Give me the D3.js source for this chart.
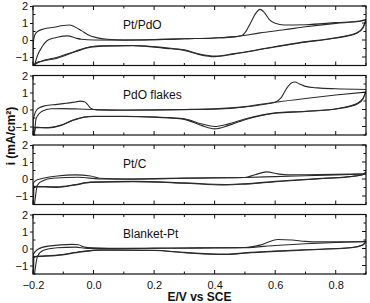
<!DOCTYPE html>
<html>
<head>
<meta charset="utf-8">
<script src="https://cdn.jsdelivr.net/npm/d3@7"></script>
<style>
  body { margin: 0; background: #fff; }
  text { font-family: "Liberation Sans", Arial, sans-serif; }
</style>
</head>
<body>
<svg id="cv" width="370" height="303"></svg>
<script>
// panel names, ticks
var panelNames = ["Pt/PdO", "PdO flakes", "Pt/C", "Blanket-Pt"];
var xTicks = [-0.2, 0.0, 0.2, 0.4, 0.6, 0.8];
var yTicks = [-1, 0, 1, 2];

// each curve = list of [E (V vs SCE), i (mA/cm2)], one sweep direction
var ptPdoUp1 = [[-0.2,-1.5],[-0.199,-0.2],[-0.195,0.25],[-0.185,0.5],[-0.165,0.65],[-0.13,0.75],[-0.1,0.85],[-0.08,0.88],[-0.065,0.8],[-0.04,0.55],[-0.02,0.33],[0.01,0.14],[0.045,0.04],[0.1,0.0],[0.2,0.02],[0.3,0.07],[0.4,0.12],[0.47,0.2],[0.49,0.26],[0.505,0.55],[0.52,1.05],[0.535,1.55],[0.55,1.8],[0.565,1.6],[0.58,1.22],[0.6,0.98],[0.63,0.88],[0.7,0.9],[0.8,1.02],[0.88,1.12],[0.9,1.2]];
var ptPdoUp2 = [[-0.195,-1.5],[-0.185,-0.9],[-0.17,-0.4],[-0.15,0.0],[-0.12,0.16],[-0.085,0.24],[-0.06,0.12],[-0.04,0.04],[0.0,0.0],[0.1,-0.01],[0.2,0.02],[0.3,0.07],[0.4,0.12],[0.47,0.2],[0.55,0.42],[0.63,0.6],[0.7,0.78],[0.8,0.98],[0.88,1.1],[0.9,1.18]];
var ptPdoDown1 = [[-0.2,-1.5],[-0.19,-1.35],[-0.17,-1.25],[-0.12,-1.07],[-0.06,-0.69],[-0.01,-0.42],[0.03,-0.36],[0.13,-0.33],[0.24,-0.49],[0.3,-0.62],[0.35,-0.86],[0.4,-0.98],[0.465,-0.82],[0.575,-0.49],[0.685,-0.16],[0.795,0.1],[0.87,0.39],[0.89,0.7],[0.9,1.2]];
var ptPdoDown2 = [[-0.198,-1.5],[-0.18,-1.3],[-0.12,-1.02],[-0.06,-0.66],[-0.01,-0.4],[0.03,-0.34],[0.13,-0.32],[0.24,-0.46],[0.3,-0.58],[0.35,-0.82],[0.4,-0.94],[0.465,-0.8],[0.575,-0.47],[0.685,-0.14],[0.795,0.12],[0.87,0.42],[0.89,0.75],[0.9,1.18]];

var pdoUp1 = [[-0.2,-1.5],[-0.199,-0.6],[-0.193,-0.2],[-0.185,0.04],[-0.16,0.22],[-0.12,0.3],[-0.09,0.37],[-0.06,0.44],[-0.045,0.49],[-0.03,0.46],[-0.02,0.3],[-0.01,0.08],[0.01,-0.02],[0.1,-0.04],[0.2,-0.03],[0.3,-0.01],[0.4,0.02],[0.5,0.15],[0.58,0.35],[0.6,0.43],[0.62,0.7],[0.64,1.3],[0.655,1.58],[0.665,1.62],[0.68,1.5],[0.7,1.36],[0.74,1.27],[0.8,1.22],[0.9,1.18]];
var pdoUp2 = [[-0.195,-1.5],[-0.19,-0.55],[-0.18,-0.25],[-0.17,-0.1],[-0.14,0.04],[-0.1,0.05],[-0.05,0.03],[0.0,0.0],[0.1,-0.03],[0.2,-0.02],[0.3,0.0],[0.4,0.04],[0.5,0.17],[0.6,0.43],[0.7,0.65],[0.8,0.85],[0.9,1.02]];
var pdoDown1 = [[-0.2,-1.5],[-0.198,-1.05],[-0.15,-1.08],[-0.11,-0.95],[-0.07,-0.65],[-0.03,-0.45],[0.0,-0.41],[0.1,-0.41],[0.2,-0.45],[0.25,-0.5],[0.3,-0.58],[0.358,-0.95],[0.4,-1.14],[0.444,-0.95],[0.5,-0.6],[0.6,-0.22],[0.7,-0.12],[0.807,0.04],[0.873,0.34],[0.89,0.62],[0.9,1.1]];
var pdoDown2 = [[-0.198,-1.5],[-0.19,-1.05],[-0.15,-1.06],[-0.11,-0.93],[-0.07,-0.64],[-0.03,-0.44],[0.0,-0.4],[0.1,-0.4],[0.2,-0.44],[0.25,-0.48],[0.3,-0.55],[0.358,-0.85],[0.4,-1.0],[0.444,-0.86],[0.5,-0.56],[0.6,-0.2],[0.7,-0.1],[0.807,0.06],[0.873,0.38],[0.89,0.66],[0.9,1.05]];

var ptcUp1 = [[-0.2,-1.5],[-0.199,-0.25],[-0.19,-0.08],[-0.167,0.04],[-0.12,0.18],[-0.06,0.24],[-0.01,0.18],[0.02,0.04],[0.1,0.0],[0.2,0.02],[0.3,0.05],[0.4,0.07],[0.5,0.09],[0.533,0.25],[0.572,0.42],[0.609,0.3],[0.642,0.24],[0.7,0.25],[0.8,0.27],[0.9,0.3]];
var ptcUp2 = [[-0.195,-1.5],[-0.185,-0.35],[-0.167,-0.1],[-0.135,0.04],[-0.05,0.1],[0.02,0.0],[0.1,-0.01],[0.3,0.04],[0.5,0.09],[0.6,0.14],[0.7,0.19],[0.8,0.24],[0.9,0.29]];
var ptcDown1 = [[-0.2,-1.5],[-0.199,-0.45],[-0.12,-0.49],[-0.06,-0.35],[-0.01,-0.2],[0.13,-0.16],[0.3,-0.25],[0.435,-0.35],[0.5,-0.3],[0.6,-0.16],[0.77,0.04],[0.85,0.14],[0.89,0.25],[0.9,0.43]];
var ptcDown2 = [[-0.198,-1.5],[-0.197,-0.43],[-0.12,-0.46],[-0.06,-0.33],[-0.01,-0.18],[0.13,-0.14],[0.3,-0.23],[0.435,-0.32],[0.5,-0.28],[0.6,-0.14],[0.77,0.05],[0.85,0.15],[0.89,0.27],[0.9,0.4]];

var blanketUp1 = [[-0.2,-1.5],[-0.199,-0.35],[-0.185,-0.06],[-0.15,0.14],[-0.07,0.24],[-0.05,0.22],[-0.03,0.08],[0.0,0.04],[0.1,0.01],[0.2,0.02],[0.3,0.03],[0.4,0.04],[0.5,0.06],[0.55,0.2],[0.609,0.53],[0.655,0.5],[0.7,0.42],[0.74,0.39],[0.8,0.39],[0.9,0.4]];
var blanketUp2 = [[-0.195,-1.5],[-0.185,-0.45],[-0.167,-0.12],[-0.12,0.04],[-0.06,0.08],[-0.02,0.0],[0.1,0.0],[0.3,0.02],[0.5,0.05],[0.6,0.18],[0.7,0.28],[0.8,0.35],[0.9,0.42]];
var blanketDown1 = [[-0.2,-1.5],[-0.199,-0.49],[-0.12,-0.41],[-0.04,-0.2],[0.02,-0.1],[0.2,-0.12],[0.3,-0.25],[0.435,-0.35],[0.52,-0.25],[0.687,-0.1],[0.852,0.04],[0.89,0.2],[0.9,0.45]];
var blanketDown2 = [[-0.198,-1.5],[-0.197,-0.47],[-0.12,-0.39],[-0.04,-0.18],[0.02,-0.08],[0.2,-0.1],[0.3,-0.23],[0.435,-0.33],[0.52,-0.23],[0.687,-0.08],[0.852,0.06],[0.89,0.22],[0.9,0.42]];

var panelCurves = [
  [ptPdoUp1, ptPdoUp2, ptPdoDown1, ptPdoDown2],
  [pdoUp1, pdoUp2, pdoDown1, pdoDown2],
  [ptcUp1, ptcUp2, ptcDown1, ptcDown2],
  [blanketUp1, blanketUp2, blanketDown1, blanketDown2]
];

var svg = d3.select("#cv"),
    margin = {top: 6, right: 4, left: 33},
    width = +svg.attr("width") - margin.left - margin.right,
    step = 69.5,
    ph = 59.5;

var x = d3.scaleLinear().domain([-0.2, 0.9]).range([0, width]);
var y = d3.scaleLinear().domain([-1.5, 2]).range([ph, 0]);

var line = d3.line()
    .x(function(d) { return x(d[0]); })
    .y(function(d) { return y(d[1]); })
    .curve(d3.curveMonotoneX);

var minorX = d3.range(-2, 10).map(function(k) { return k / 10; });
var minorY = [-1.5, -0.5, 0.5, 1.5];

panelNames.forEach(function(name, i) {
  var g = svg.append("g")
      .attr("transform", "translate(" + margin.left + "," + (margin.top + i * step) + ")");

  g.append("clipPath").attr("id", "clip" + i)
    .append("rect").attr("width", width).attr("height", ph);

  // curves
  g.append("g").attr("clip-path", "url(#clip" + i + ")")
    .selectAll("path")
    .data(panelCurves[i])
    .enter().append("path")
      .attr("d", function(d) { return line(d.slice().sort(function(a, b) { return a[0] - b[0]; })); })
      .attr("fill", "none")
      .attr("stroke", "#2a2a2a")
      .attr("stroke-width", 1.1);

  // frame
  g.append("rect")
      .attr("width", width).attr("height", ph)
      .attr("fill", "none").attr("stroke", "#111").attr("stroke-width", 1.2);

  // top / bottom ticks, inside
  minorX.forEach(function(v) {
    var major = Math.abs(Math.round(v * 10) % 2) === 0;
    var len = major ? 4 : 2.5;
    g.append("line").attr("x1", x(v)).attr("x2", x(v)).attr("y1", 0).attr("y2", len)
      .attr("stroke", "#111");
    g.append("line").attr("x1", x(v)).attr("x2", x(v)).attr("y1", ph).attr("y2", ph - len)
      .attr("stroke", "#111");
  });

  // left axis
  g.append("g")
      .call(d3.axisLeft(y).tickValues(yTicks).tickSize(3).tickPadding(2).tickFormat(d3.format("d")))
      .call(function(a) {
        a.select(".domain").remove();
        a.selectAll("line").attr("stroke", "#111");
        a.selectAll("text").attr("font-size", 11).attr("fill", "#111").attr("font-family", "Liberation Sans, Arial, sans-serif");
      });
  minorY.forEach(function(v) {
    g.append("line").attr("x1", 0).attr("x2", 2.5).attr("y1", y(v)).attr("y2", y(v)).attr("stroke", "#111");
  });

  // right ticks inside
  yTicks.concat(minorY).forEach(function(v) {
    var len = Number.isInteger(v) ? 4 : 2.5;
    g.append("line").attr("x1", width).attr("x2", width - len).attr("y1", y(v)).attr("y2", y(v)).attr("stroke", "#111");
  });

  g.append("text")
      .attr("x", 90).attr("y", 23)
      .attr("font-size", 12).attr("fill", "#111")
      .text(name);

  if (i === panelNames.length - 1) {
    g.append("g")
        .attr("transform", "translate(0," + ph + ")")
        .call(d3.axisBottom(x).tickValues(xTicks).tickSize(0).tickPadding(7).tickFormat(d3.format(".1f")))
        .call(function(a) {
          a.select(".domain").remove();
          a.selectAll("text").attr("font-size", 11).attr("fill", "#111").attr("font-family", "Liberation Sans, Arial, sans-serif");
        });
  }
});

svg.append("text")
    .attr("x", margin.left + width / 2).attr("y", 301)
    .attr("text-anchor", "middle")
    .attr("font-size", 12).attr("font-weight", "bold").attr("fill", "#111")
    .text("E/V vs SCE");

svg.append("text")
    .attr("transform", "translate(15,136) rotate(-90)")
    .attr("text-anchor", "middle")
    .attr("font-size", 12).attr("font-weight", "bold").attr("fill", "#111")
    .text("i (mA/cm²)");
</script>
</body>
</html>
